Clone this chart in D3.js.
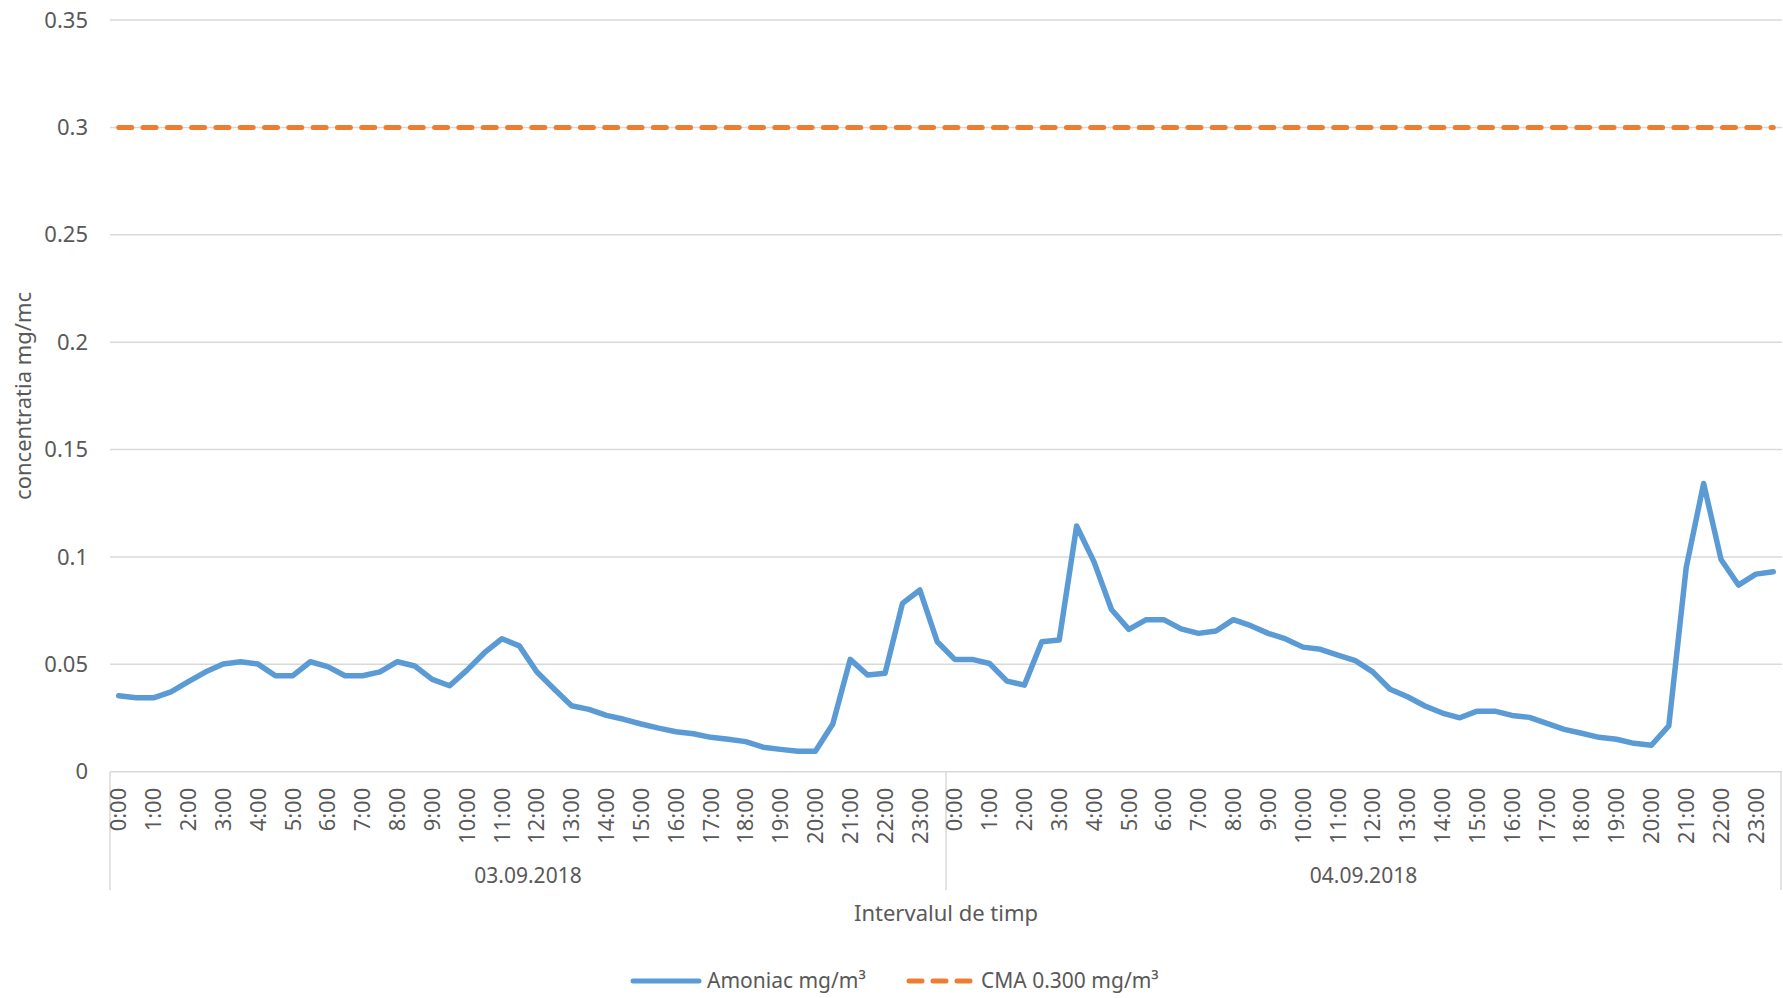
<!DOCTYPE html>
<html>
<head>
<meta charset="utf-8">
<script src="https://cdn.jsdelivr.net/npm/d3@7"></script>
<style>
  body { margin: 0; background: #fff; }
  text { font-family: "Noto Sans", "Open Sans", sans-serif; fill: #595959; }
</style>
</head>
<body>
<svg id="chart" width="1783" height="998"></svg>
<script>
// days shown on the outer axis level
const days = ["03.09.2018", "04.09.2018"];
// hour tick labels (one every two half-hour readings)
const hourLabels = ["0:00", "1:00", "2:00", "3:00", "4:00", "5:00", "6:00", "7:00",
  "8:00", "9:00", "10:00", "11:00", "12:00", "13:00", "14:00", "15:00",
  "16:00", "17:00", "18:00", "19:00", "20:00", "21:00", "22:00", "23:00"];
const yTicks = [0, 0.05, 0.1, 0.15, 0.2, 0.25, 0.3, 0.35];

// Amoniac mg/m3, half-hourly readings
const amoniac = [
  0.0354, 0.0344, 0.0344, 0.0372, 0.0419, 0.0465, 0.0501, 0.0512,
  0.0501, 0.0447, 0.0447, 0.0512, 0.0489, 0.0447, 0.0447, 0.0465,
  0.0512, 0.0492, 0.0430, 0.0400, 0.0473, 0.0554, 0.0619, 0.0586,
  0.0465, 0.0385, 0.0307, 0.0290, 0.0262, 0.0244, 0.0222, 0.0203,
  0.0186, 0.0177, 0.0160, 0.0151, 0.0140, 0.0114, 0.0104, 0.0095,
  0.0095, 0.0222, 0.0523, 0.0450, 0.0458, 0.0784, 0.0846, 0.0605,
  0.0523, 0.0523, 0.0504, 0.0422, 0.0403, 0.0605, 0.0613, 0.1144,
  0.0977, 0.0755, 0.0663, 0.0708, 0.0708, 0.0665, 0.0644, 0.0655,
  0.0708, 0.0680, 0.0644, 0.0618, 0.0580, 0.0570, 0.0543, 0.0517,
  0.0465, 0.0384, 0.0349, 0.0306, 0.0273, 0.0251, 0.0282, 0.0282,
  0.0262, 0.0253, 0.0225, 0.0197, 0.0179, 0.0160, 0.0151, 0.0132,
  0.0123, 0.0213, 0.0951, 0.1342, 0.0988, 0.0869, 0.0920, 0.0931
];
// CMA limit value
const cmaLimit = 0.3;

// category keys: every day, every half hour
const categories = days.flatMap(d =>
  hourLabels.flatMap(h => [d + " " + h, d + " " + h.replace(":00", ":30")]));

const margin = { top: 20, right: 1, bottom: 226, left: 110 };
const W = 1783, H = 998;
const svg = d3.select("#chart");

const x = d3.scaleBand().domain(categories).range([margin.left, W - margin.right]).padding(0);
const y = d3.scaleLinear().domain([0, 0.35]).range([H - margin.bottom - 0.3, margin.top]);
const cx = c => x(c) + x.bandwidth() / 2;

// gridlines
svg.append("g").selectAll("line").data(yTicks).join("line")
  .attr("x1", margin.left).attr("x2", W - margin.right)
  .attr("y1", d => y(d)).attr("y2", d => y(d))
  .attr("stroke", "#d9d9d9").attr("stroke-width", 1.5);

// y axis labels
svg.append("g").selectAll("text").data(yTicks).join("text")
  .attr("x", 88).attr("y", d => y(d)).attr("dy", "0.35em")
  .attr("text-anchor", "end").attr("font-size", 22)
  .text(d => String(+d.toFixed(2)));

// category axis separators (day boundaries)
const axisY = y(0);
const bounds = [x(categories[0]), x(categories[48]), W - margin.right - 1];
svg.append("g").selectAll("line").data(bounds).join("line")
  .attr("x1", d => d).attr("x2", d => d)
  .attr("y1", axisY).attr("y2", 890)
  .attr("stroke", "#d9d9d9").attr("stroke-width", 1.5);

// hour tick labels, rotated
const labelled = categories.filter((c, i) => i % 2 === 0);
svg.append("g").selectAll("text").data(labelled).join("text")
  .attr("transform", d => `translate(${cx(d)},${axisY + 16}) rotate(-90)`)
  .attr("dy", "0.35em").attr("text-anchor", "end").attr("font-size", 22)
  .text(d => d.split(" ")[1]);

// day labels
svg.append("g").selectAll("text").data(days).join("text")
  .attr("x", (d, i) => (bounds[i] + bounds[i + 1]) / 2).attr("y", 876)
  .attr("dy", "0.35em").attr("text-anchor", "middle").attr("font-size", 21)
  .text(d => d);

// axis titles
svg.append("text").attr("x", (margin.left + W - margin.right) / 2).attr("y", 913)
  .attr("dy", "0.35em").attr("text-anchor", "middle").attr("font-size", 22)
  .text("Intervalul de timp");
svg.append("text").attr("transform", `translate(23,${(margin.top + axisY) / 2}) rotate(-90)`)
  .attr("dy", "0.35em").attr("text-anchor", "middle").attr("font-size", 22)
  .text("concentratia mg/mc");

// CMA dashed line
svg.append("line")
  .attr("x1", cx(categories[0])).attr("x2", cx(categories[categories.length - 1]))
  .attr("y1", y(cmaLimit)).attr("y2", y(cmaLimit))
  .attr("stroke", "#ed7d31").attr("stroke-width", 5)
  .attr("stroke-linecap", "round").attr("stroke-dasharray", "13,11.3");

// Amoniac line
const line = d3.line().x((d, i) => cx(categories[i])).y(d => y(d));
svg.append("path").datum(amoniac)
  .attr("d", line).attr("fill", "none")
  .attr("stroke", "#5b9bd5").attr("stroke-width", 5.5)
  .attr("stroke-linejoin", "round").attr("stroke-linecap", "round");

// legend
const lg = svg.append("g").attr("transform", "translate(0,981)");
lg.append("line").attr("x1", 633).attr("x2", 699).attr("y1", 0).attr("y2", 0)
  .attr("stroke", "#5b9bd5").attr("stroke-width", 5).attr("stroke-linecap", "round");
lg.append("text").attr("x", 707).attr("dy", "0.35em").attr("font-size", 21).text("Amoniac mg/m³");
lg.append("line").attr("x1", 909).attr("x2", 970).attr("y1", 0).attr("y2", 0)
  .attr("stroke", "#ed7d31").attr("stroke-width", 5).attr("stroke-linecap", "round")
  .attr("stroke-dasharray", "13,11");
lg.append("text").attr("x", 981).attr("dy", "0.35em").attr("font-size", 21).text("CMA 0.300 mg/m³");
</script>
</body>
</html>
